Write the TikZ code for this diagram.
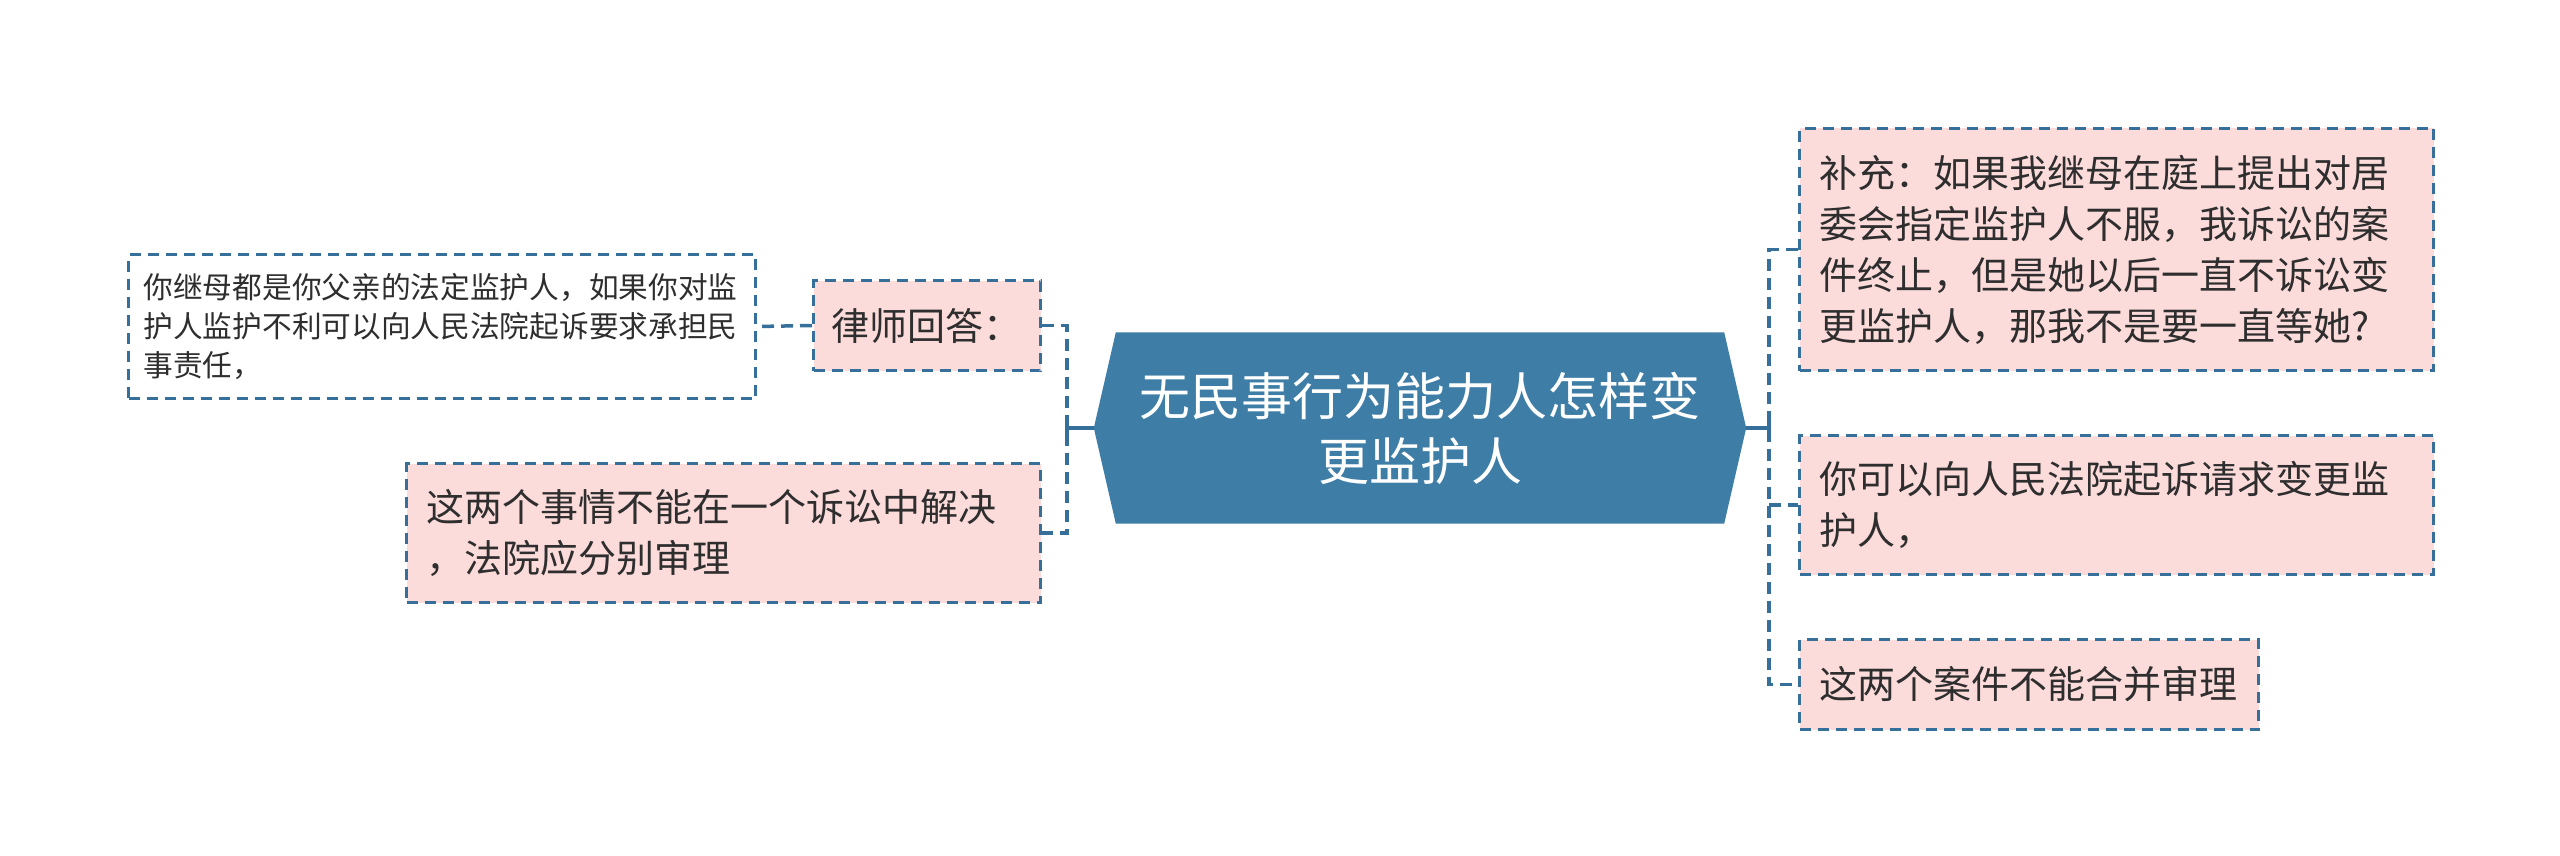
\documentclass[tikz,border=0pt]{standalone}
\usepackage{fontspec}
\setmainfont{Noto Sans CJK SC}
\usetikzlibrary{backgrounds}
\definecolor{hexblue}{HTML}{3E7EA6}
\definecolor{linkblue}{HTML}{36709A}
\definecolor{pinkfill}{HTML}{FCDBDB}
\definecolor{txtgray}{HTML}{2E2E2E}
\begin{document}
\begin{tikzpicture}[x=1pt,y=-1pt,
  box/.style={draw=linkblue, line width=3pt, dash pattern=on 11pt off 7pt,
    fill=pinkfill, text=txtgray, anchor=north west, inner xsep=20pt, inner ysep=0pt,
    align=left, font=\fontsize{38}{51}\selectfont},
  whitebox/.style={box, fill=white, inner xsep=15pt, font=\fontsize{29.7}{39}\selectfont},
  link/.style={draw=linkblue, line width=3.5pt, dash pattern=on 12pt off 7pt},
  solidlink/.style={draw=linkblue, line width=3.5pt}]
\useasboundingbox (0,0) rectangle (2560,856);

% central topic
\node[text=white, align=center, font=\fontsize{51}{65}\selectfont,
  minimum width=652pt, minimum height=191pt, inner sep=0pt] (title) at (1420,428)
  {无民事行为能力人怎样变\\更监护人};
\begin{scope}[on background layer]
\fill[hexblue] (title.west) -- ([xshift=22pt]title.north west) -- ([xshift=-22pt]title.north east)
  -- (title.east) -- ([xshift=-22pt]title.south east) -- ([xshift=22pt]title.south west) -- cycle;
\end{scope}

% left side
\node[box, text width=191pt, minimum height=90pt, inner xsep=18pt] (lawyer) at (812,279) {律师回答：};
\node[whitebox, text width=597pt, minimum height=144pt] (answer) at (127,253)
  {你继母都是你父亲的法定监护人，如果你对监\\护人监护不利可以向人民法院起诉要求承担民\\事责任，};
\node[box, text width=594pt, minimum height=139pt] (twothings) at (405,462)
  {这两个事情不能在一个诉讼中解决\\，法院应分别审理};

% right side
\node[box, text width=594pt, minimum height=242pt] (supp) at (1798,127)
  {补充：如果我继母在庭上提出对居\\委会指定监护人不服，我诉讼的案\\件终止，但是她以后一直不诉讼变\\更监护人，那我不是要一直等她?};
\node[box, text width=594pt, minimum height=139pt] (canyou) at (1798,434)
  {你可以向人民法院起诉请求变更监\\护人，};
\node[box, text width=419pt, minimum height=90pt] (nomerge) at (1798,638)
  {这两个案件不能合并审理};

% connectors
\coordinate (jl) at (1067,428);
\coordinate (jr) at (1769,428);
\draw[solidlink] (title.west) -- (jl);
\draw[solidlink] ([yshift=10pt]jl) -- ([yshift=-10pt]jl);
\draw[link] (lawyer.east) -- (lawyer.east -| jl) -- (twothings.east -| jl) -- (twothings.east);
\draw[link] (lawyer.west) -- (answer.east);

\draw[solidlink] (title.east) -- (jr);
\draw[solidlink] ([yshift=10pt]jr) -- ([yshift=-10pt]jr);
\draw[link] (supp.west) -- (supp.west -| jr) -- (nomerge.west -| jr) -- (nomerge.west);
\draw[link] (canyou.west -| jr) -- (canyou.west);
\end{tikzpicture}
\end{document}
